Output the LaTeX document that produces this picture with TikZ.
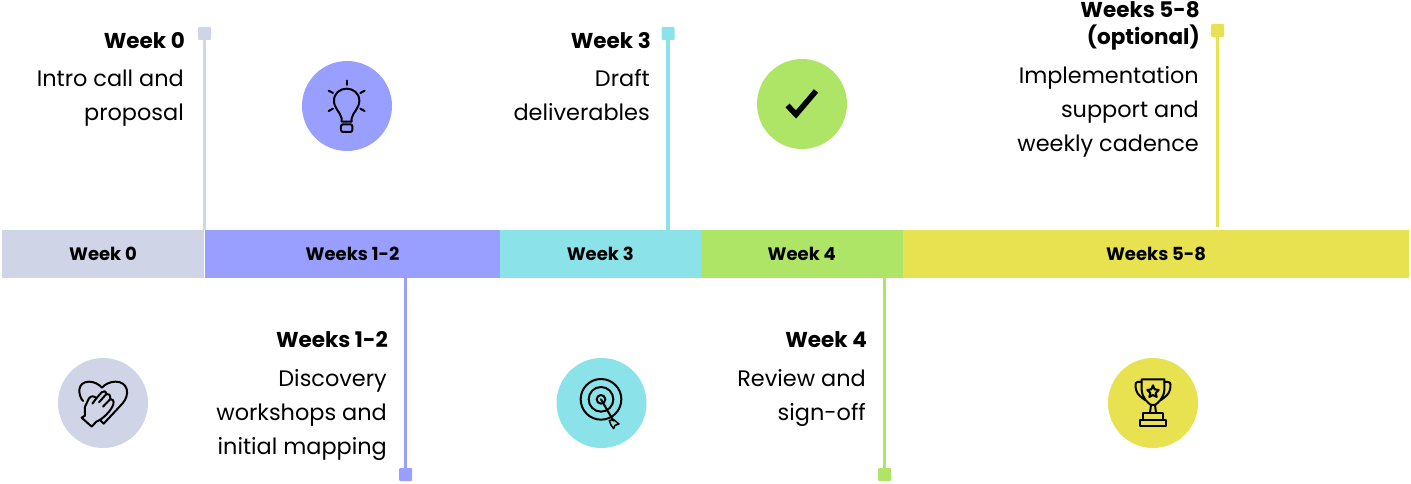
\documentclass[tikz,border=0pt]{standalone}
\usepackage{fontspec}
\setmainfont{Poppins}
\definecolor{cA}{HTML}{CFD5E7}
\definecolor{cB}{HTML}{999FFF}
\definecolor{cC}{HTML}{8BE3E9}
\definecolor{cD}{HTML}{AFE567}
\definecolor{cE}{HTML}{E8E150}
\tikzset{
  seg/.style={fill=#1,draw=none,inner sep=0pt,minimum height=48pt,font=\fontsize{18}{20}\selectfont\bfseries,text=black},
  pin/.style={fill=#1,draw=none,rectangle,rounded corners=1pt,inner sep=0pt,minimum size=13pt},
  pole/.style={draw=#1,line width=3.5pt},
  disc/.style={fill=#1,draw=none,circle,inner sep=0pt,minimum size=90pt},
  head/.style={anchor=east,inner sep=0pt,align=right,font=\fontsize{21.5}{27}\selectfont\bfseries,execute at begin node={\strut},execute at end node={\strut}},
  body/.style={anchor=east,inner sep=0pt,align=right,font=\fontsize{22.4}{33.8}\selectfont,execute at begin node={\strut},execute at end node={\strut}},
  ico/.style={draw=black,line width=2pt,line join=round,line cap=round,fill=none}
}
\begin{document}
\begin{tikzpicture}[x=1pt,y=-1pt]
\useasboundingbox (0,0) rectangle (1411,484);
% bar
\node[seg=cA,minimum width=202pt] (s0) at (103,254) {Week 0};
\node[seg=cB,minimum width=295pt] (s1) at (352.5,254) {Weeks 1-2};
\node[seg=cC,minimum width=200.5pt] (s2) at (600.25,254) {Week 3};
\node[seg=cD,minimum width=202.5pt] (s3) at (801.75,254) {Week 4};
\node[seg=cE,minimum width=506pt] (s4) at (1156,254) {Weeks 5-8};
% pins and poles
\node[pin=cA] (p0) at (204.5,33.5) {};
\node[pin=cB] (p1) at (405.5,474.5) {};
\node[pin=cC] (p2) at (668,33.5) {};
\node[pin=cD] (p3) at (884.5,474.5) {};
\node[pin=cE] (p4) at (1217.5,30.5) {};
\coordinate (e4) at (1217.5,227);
\draw[pole=cA] (p0.center) -- (p0.center |- s0.north);
\draw[pole=cB] (p1.center) -- (p1.center |- s1.south);
\draw[pole=cC] (p2.center) -- (p2.center |- s2.north);
\draw[pole=cD] (p3.center) -- (p3.center |- s3.south);
\draw[pole=cE] (p4.center) -- (e4);
% discs
\node[disc=cA] (d0) at (103,403) {};
\node[disc=cB] (d1) at (347,106) {};
\node[disc=cC] (d2) at (601.5,403) {};
\node[disc=cD] (d3) at (802,104) {};
\node[disc=cE] (d4) at (1153,403) {};
% text
\node[head] (h0) at (185,43) {Week 0};
\node[body] (b0) at (184,100) {Intro call and\\proposal};
\node[head] (h1) at (388,342) {Weeks 1-2};
\node[body] (b1) at (387,417) {Discovery\\workshops and\\initial mapping};
\node[head] (h2) at (651,43) {Week 3};
\node[body] (b2) at (650,100) {Draft\\deliverables};
\node[head] (h3) at (867,342) {Week 4};
\node[body] (b3) at (866,400) {Review and\\sign-off};
\node[head] (h4) at (1200,27.5) {Weeks 5-8\\(optional)};
\node[body] (b4) at (1199,114) {Implementation\\support and\\weekly cadence};
% heart-hand icon
\begin{scope}[shift={(75,375)},x=0.3333pt,y=-0.3333pt]
\draw[ico] (24,78) .. controls (8,60) and (6,20) .. (42,20) .. controls (58,20) and (72,28) .. (81,38) .. controls (90,28) and (104,20) .. (122,20) .. controls (160,20) and (166,60) .. (142,86) -- (86,146) -- (75,135);
\draw[ico] (20,128) -- (50,155) -- (64,140) .. controls (85,132) and (110,105) .. (115,88) .. controls (118,78) and (112,70) .. (106,72) .. controls (107,60) and (100,54) .. (94,57) .. controls (93,48) and (85,46) .. (80,52) -- (64,70) .. controls (58,62) and (48,62) .. (42,70) -- (30,95) -- (30,122) -- cycle;
\draw[ico] (64,70) -- (52,86);
\draw[ico] (94,57) -- (72,82);
\draw[ico] (106,72) -- (84,95);
\end{scope}
% bulb icon
\begin{scope}[shift={(290,50)},x=0.3333pt,y=-0.3333pt]
\draw[ico] (155,215) -- (155,205) .. controls (150,185) and (132,175) .. (132,152) .. controls (132,130) and (150,116) .. (170,116) .. controls (190,116) and (208,130) .. (208,152) .. controls (208,175) and (190,185) .. (185,205) -- (185,215) -- cycle;
\draw[ico,rounded corners=2pt] (153,223) rectangle (187,246);
\draw[ico] (170,92) -- (170,105);
\draw[ico] (116,122) -- (129,129);
\draw[ico] (224,122) -- (211,129);
\draw[ico] (116,183) -- (129,176);
\draw[ico] (224,183) -- (211,176);
\end{scope}
% target icon
\begin{scope}[shift={(545,350)},x=0.3333pt,y=-0.3333pt]
\draw[ico] (168,148) circle[x radius=61,y radius=61];
\draw[ico] (168,148) circle[x radius=37,y radius=37];
\draw[ico] (168,148) circle[x radius=13,y radius=13];
\draw[ico] (168,148) -- (205,212);
\draw[ico,line width=1.5pt] (193,212) -- (205,208) -- (222,222) -- (210,226) -- (206,236) -- (198,225) -- cycle;
\end{scope}
% check icon
\draw[line width=5.5pt,line join=miter,black] (787.5,105.5) -- (796,114.5) -- (816,91);
% trophy icon
\begin{scope}[shift={(1095,350)},x=0.3333pt,y=-0.3333pt]
\draw[ico] (140,88) -- (208,88) -- (208,120) .. controls (206,145) and (190,158) .. (180,165) -- (168,165) .. controls (158,158) and (142,145) .. (140,120) -- cycle;
\draw[ico] (140,96) -- (128,96) .. controls (120,96) and (120,108) .. (124,122) .. controls (128,135) and (140,142) .. (150,150);
\draw[ico] (208,96) -- (220,96) .. controls (228,96) and (228,108) .. (224,122) .. controls (220,135) and (208,142) .. (198,150);
\draw[ico] (174,106) -- (179,118) -- (191,120) -- (182,129) -- (185,141) -- (174,135) -- (163,141) -- (166,129) -- (157,120) -- (169,118) -- cycle;
\draw[ico] (168,165) -- (165,188);
\draw[ico] (180,165) -- (183,188);
\draw[ico] (145,188) rectangle (203,210);
\draw[ico] (136,210) rectangle (212,228);
\end{scope}
\end{tikzpicture}
\end{document}
